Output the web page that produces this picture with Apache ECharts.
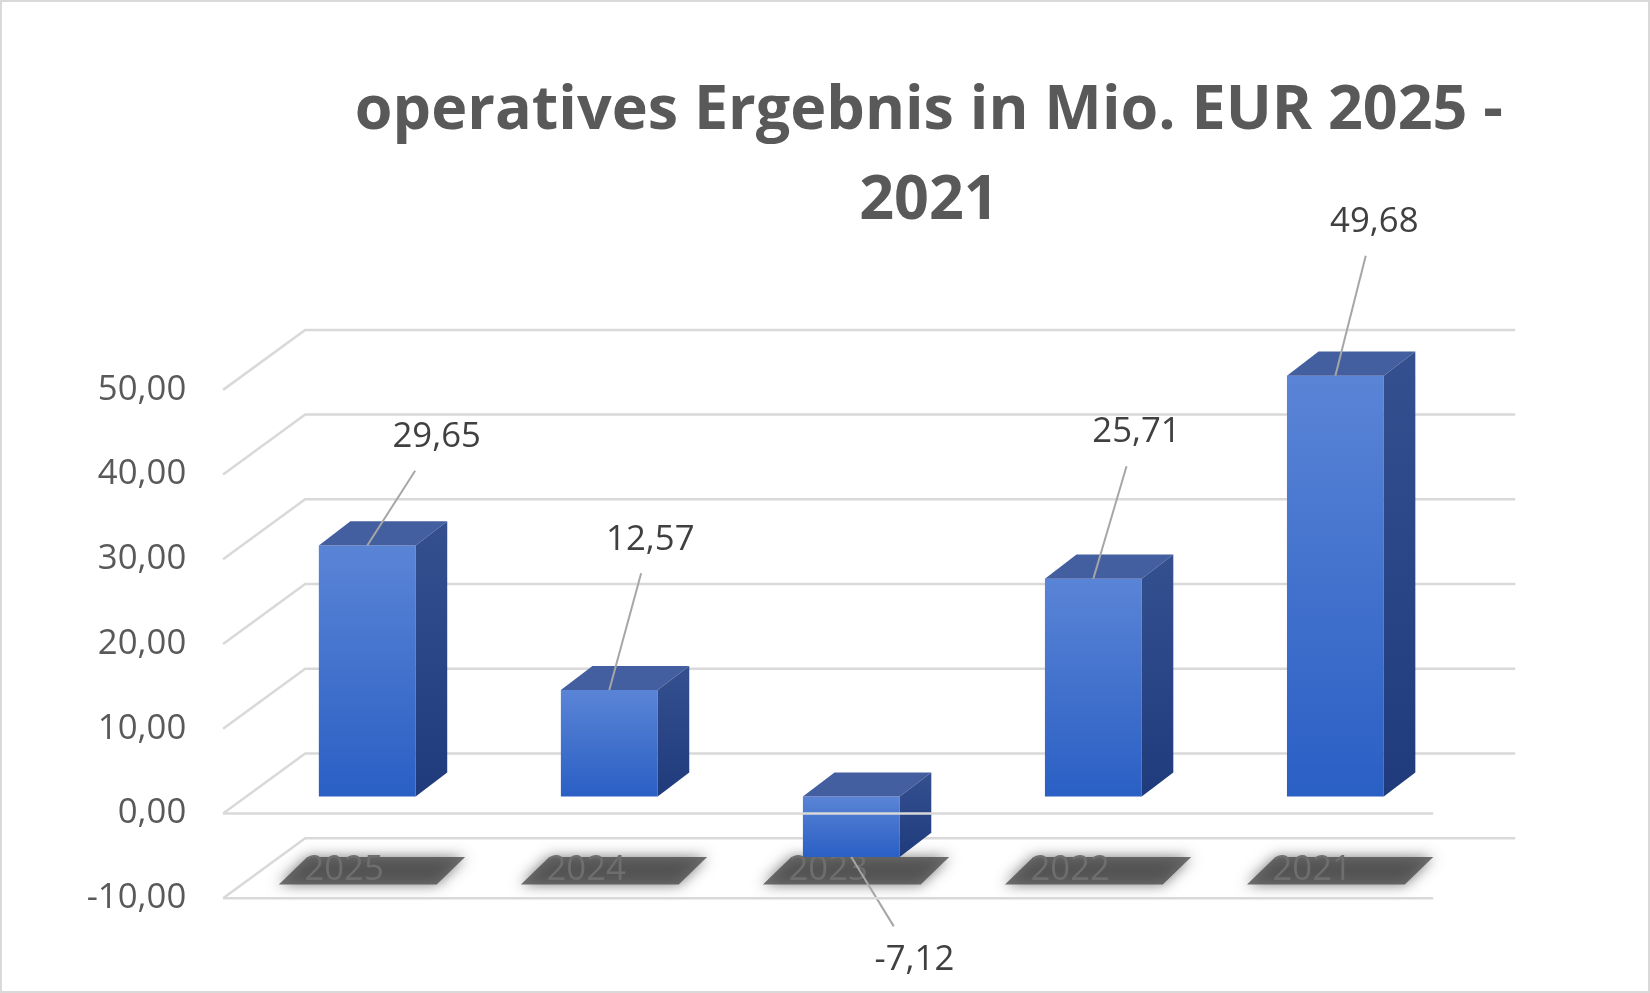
<!DOCTYPE html>
<html><head><meta charset="utf-8">
<script src="https://cdn.jsdelivr.net/npm/echarts@6/dist/echarts.min.js"></script>
<style>html,body{margin:0;padding:0;background:#fff}#c{width:1650px;height:993px}</style>
</head><body><div id="c"></div>
<script>
const categories = ['2025','2024','2023','2022','2021'];
const values = [29.65, 12.57, -7.12, 25.71, 49.68];
const valueLabels = ['29,65','12,57','-7,12','25,71','49,68'];
const ticks = [-10, 0, 10, 20, 30, 40, 50];
const tickLabels = ['-10,00','0,00','10,00','20,00','30,00','40,00','50,00'];
const floorLines = [-10, 0];
// label offsets (px in reference scale) from bar top centre
const labelOffsets = [[66,-103],[39,-143],[60,98],[41,-139],[37,-146]];

const s = 1650/1568;
const FDX = -22*s, FDY = 16*s, BDX = 56*s, BDY = -41*s;
const DX = 30*s, DY = 23*s;
const FONT = '"Open Sans", "Liberation Sans", sans-serif';
const txt = '#595959';

const chart = echarts.init(document.getElementById('c'));

chart.setOption({
  animation:false,
  backgroundColor:'#fff',
  title:{text:'operatives Ergebnis in Mio. EUR 2025 -\n2021', left:878*s, top:58*s, textAlign:'center',
    textStyle:{fontFamily:FONT, fontWeight:'bold', fontSize:58*s, color:txt, lineHeight:86*s}},
  graphic:[{type:'rect', shape:{x:1,y:1,width:1648,height:991}, style:{fill:'none', stroke:'#d9d9d9', lineWidth:2}, silent:true}],
  grid:{left:234*s, right:1650-1384*s, top:354.5*s, bottom:993-837.5*s},
  xAxis:{type:'category', data:categories, show:false},
  yAxis:{type:'value', min:-10, max:50, interval:10, show:false},
  series:[
    {type:'custom', z:1, data:ticks.map((v,i)=>[0,v,i]), renderItem:(params,api)=>{
      const cs = params.coordSys;
      const y = api.coord([0,api.value(1)])[1];
      const L = cs.x, R = cs.x+cs.width;
      const i = api.value(2);
      return {type:'group', children:[
        {type:'polyline', shape:{points:[[L+FDX,y+FDY],[L+BDX,y+BDY],[R+BDX,y+BDY]]}, style:{stroke:'#d9d9d9', lineWidth:2.5, fill:'none'}},
        {type:'text', style:{text:tickLabels[i], x:L+FDX-35*s, y:y+FDY, align:'right', verticalAlign:'middle', fontFamily:FONT, fontSize:33*s, fill:txt}}
      ]};
    }},
    {type:'custom', z:2, data:categories.map((c,i)=>[i,-10]), renderItem:(params,api)=>{
      const p = api.coord([api.value(0),-10]);
      const x = p[0]-22*s, y = p[1]-11*s;
      return {type:'group', children:[
        {type:'polygon', shape:{points:[[x-35*s,y-12*s],[x+115*s,y-12*s],[x+88*s,y+14*s],[x-62*s,y+14*s]]},
          style:{fill:'rgba(70,70,70,0.75)', shadowBlur:14, shadowColor:'rgba(60,60,60,0.9)'}},
        {type:'text', style:{text:categories[api.value(0)], x:x, y:y, align:'center', verticalAlign:'middle', fontFamily:FONT, fontSize:33*s, fill:'#6e6e6e'}}
      ]};
    }},
    {type:'custom', z:3, data:values.map((v,i)=>[i,v]), renderItem:(params,api)=>{
      const i = api.value(0), v = api.value(1);
      const p0 = api.coord([i,0]), p1 = api.coord([i,v]);
      const w = api.size([1,0])[0]*0.4;
      const xl = p0[0]-w/2, xr = p0[0]+w/2;
      const yt = Math.min(p0[1],p1[1]), yb = Math.max(p0[1],p1[1]);
      const off = labelOffsets[i];
      const ax = p0[0], ay = p1[1];
      const lx = ax+off[0]*s, ly = ay+off[1]*s;
      const dir = off[1]<0 ? 1 : -1;
      const ex = ax + (lx-ax)*(1-32/Math.abs(off[1])), ey = ly + dir*32*s;
      return {type:'group', children:[
        {type:'rect', shape:{x:xl,y:yt,width:w,height:yb-yt}, style:{fill:new echarts.graphic.LinearGradient(0,0,0,1,[{offset:0,color:'#5a84d6'},{offset:1,color:'#2a5fc4'}])}},
        {type:'polygon', shape:{points:[[xl,yt],[xr,yt],[xr+DX,yt-DY],[xl+DX,yt-DY]]}, style:{fill:'#445f9f'}},
        {type:'polygon', shape:{points:[[xr,yt],[xr+DX,yt-DY],[xr+DX,yb-DY],[xr,yb]]}, style:{fill:new echarts.graphic.LinearGradient(0,0,0,1,[{offset:0,color:'#35508f'},{offset:1,color:'#1f3b7c'}])}},
        {type:'line', shape:{x1:ax,y1:ay,x2:ex,y2:ey}, style:{stroke:'#a6a6a6', lineWidth:2}},
        {type:'text', style:{text:valueLabels[i], x:lx, y:ly, align:'center', verticalAlign:'middle', fontFamily:FONT, fontSize:33*s, fill:'#404040'}}
      ]};
    }},
    {type:'custom', z:4, data:floorLines.map(v=>[0,v]), renderItem:(params,api)=>{
      const cs = params.coordSys;
      const y = api.coord([0,api.value(1)])[1];
      return {type:'line', shape:{x1:cs.x+FDX, y1:y+FDY, x2:cs.x+cs.width+FDX, y2:y+FDY}, style:{stroke:'#d9d9d9', lineWidth:2.5}};
    }}
  ]
});
</script></body></html>
